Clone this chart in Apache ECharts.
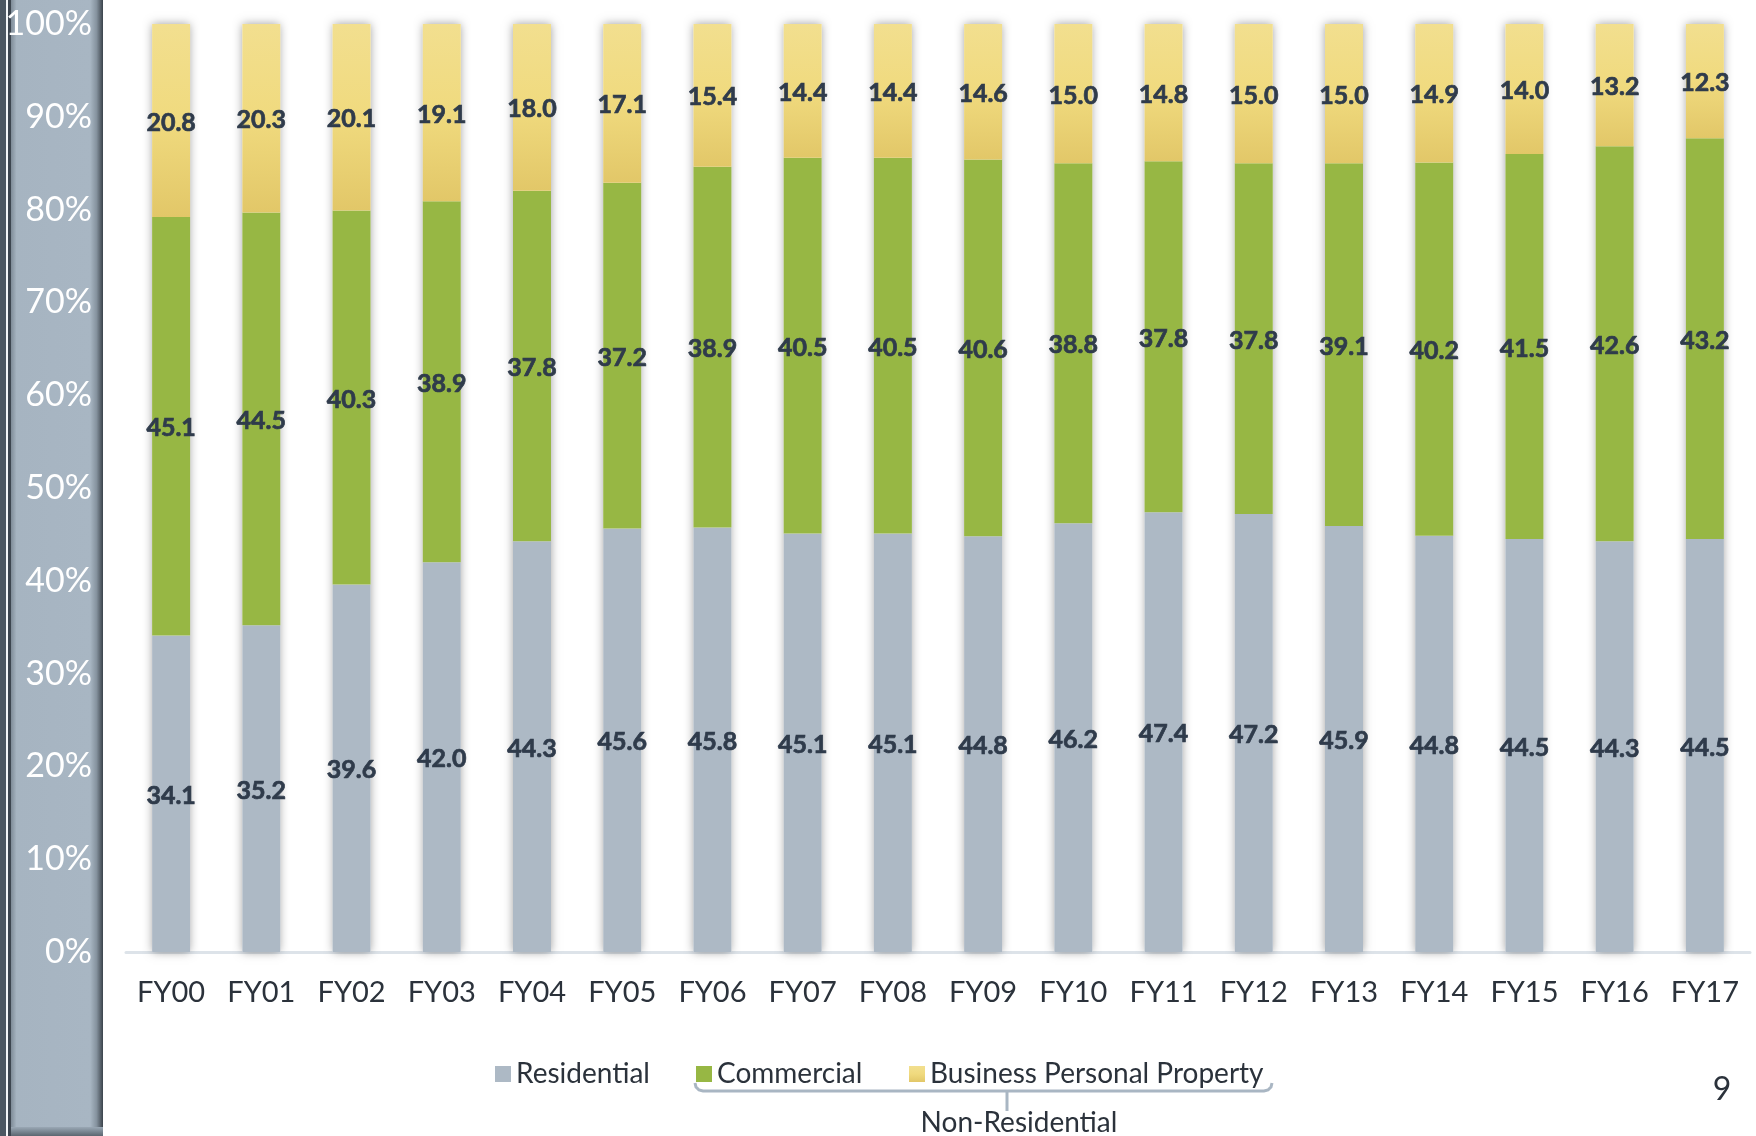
<!DOCTYPE html>
<html><head><meta charset="utf-8">
<script src="https://cdn.jsdelivr.net/npm/echarts@6/dist/echarts.min.js"></script>
<style>html,body{margin:0;padding:0;background:#fff}#c{width:1756px;height:1136px}</style>
</head><body><div id="c"></div>
<script>
const categories = ['FY00','FY01','FY02','FY03','FY04','FY05','FY06','FY07','FY08','FY09','FY10','FY11','FY12','FY13','FY14','FY15','FY16','FY17'];
const residential = [34.1,35.2,39.6,42.0,44.3,45.6,45.8,45.1,45.1,44.8,46.2,47.4,47.2,45.9,44.8,44.5,44.3,44.5];
const commercial  = [45.1,44.5,40.3,38.9,37.8,37.2,38.9,40.5,40.5,40.6,38.8,37.8,37.8,39.1,40.2,41.5,42.6,43.2];
const bpp         = [20.8,20.3,20.1,19.1,18.0,17.1,15.4,14.4,14.4,14.6,15.0,14.8,15.0,15.0,14.9,14.0,13.2,12.3];
const seriesNames = ['Residential','Commercial','Business Personal Property'];
const groupLabel = 'Non-Residential';
const pageNumber = '9';

const FONT = 'Lato, "Noto Sans", sans-serif';
const totals = categories.map((_, i) => residential[i] + commercial[i] + bpp[i]);
const pct = arr => arr.map((v, i) => v / totals[i] * 100);

const chart = echarts.init(document.getElementById('c'), null, {renderer: 'canvas'});
const labelCfg = raw => ({
  show: true, position: 'inside', color: '#2f3b4b', fontWeight: 'bold', fontSize: 25,
  textBorderColor: '#2f3b4b', textBorderWidth: 0.7, offset: [0, 2],
  fontFamily: FONT, formatter: p => raw[p.dataIndex].toFixed(1)
});
const legendCfg = (name, left) => ({
  data: [name], left: left, top: 1055, itemWidth: 16, itemHeight: 16,
  icon: 'rect', selectedMode: false,
  textStyle: {color: '#2b323b', fontSize: 28, fontFamily: FONT}
});

const option = {
  backgroundColor: '#ffffff',
  animation: false,
  grid: {left: 126, right: 6, top: 24, bottom: 184, containLabel: false},
  xAxis: {
    type: 'category', data: categories,
    axisLine: {show: true, lineStyle: {color: '#dde3e9', width: 3}},
    axisTick: {show: false},
    axisLabel: {color: '#2b323b', fontSize: 29, fontFamily: FONT, margin: 26}
  },
  yAxis: {
    type: 'value', min: 0, max: 100, interval: 10, z: 5,
    axisLine: {show: false}, axisTick: {show: false}, splitLine: {show: false},
    axisLabel: {color: '#ffffff', fontSize: 34, fontFamily: FONT, margin: 34, formatter: '{value}%'}
  },
  legend: [
    legendCfg(seriesNames[0], 490),
    legendCfg(seriesNames[1], 691),
    legendCfg(seriesNames[2], 904)
  ],
  series: [
    {
      name: 'shadow', type: 'bar', data: categories.map(() => 100), barWidth: 38, barGap: '-100%',
      silent: true, z: 1, legendHoverLink: false,
      itemStyle: {color: '#ffffff', shadowBlur: 9, shadowColor: 'rgba(0,0,0,0.38)'}
    },
    {
      name: seriesNames[0], type: 'bar', stack: 'a', data: pct(residential), barWidth: 38, z: 2,
      itemStyle: {color: '#adb9c5'}, label: labelCfg(residential)
    },
    {
      name: seriesNames[1], type: 'bar', stack: 'a', data: pct(commercial), barWidth: 38, z: 2,
      itemStyle: {color: '#97b744'}, label: labelCfg(commercial)
    },
    {
      name: seriesNames[2], type: 'bar', stack: 'a', data: pct(bpp), barWidth: 38, z: 2,
      itemStyle: {color: {type: 'linear', x: 0, y: 0, x2: 0, y2: 1, colorStops: [
        {offset: 0, color: '#f2df8f'}, {offset: 0.5, color: '#f0da7e'}, {offset: 1, color: '#e2c768'}
      ]}},
      label: labelCfg(bpp)
    }
  ],
  graphic: [
    {type: 'rect', z: 0, shape: {x: 0, y: 0, width: 6, height: 1136}, style: {fill: '#4c5762'}},
    {type: 'rect', z: 0, shape: {x: 6, y: 0, width: 2, height: 1136}, style: {fill: '#f4f6f8'}},
    {type: 'rect', z: 0, shape: {x: 8, y: 0, width: 3, height: 1136}, style: {fill: '#3d4650'}},
    {type: 'rect', z: 0, shape: {x: 11, y: 0, width: 92, height: 1136}, style: {
      fill: {type: 'linear', x: 0, y: 0, x2: 1, y2: 0, colorStops: [
        {offset: 0, color: '#7f8c98'}, {offset: 0.06, color: '#a6b4c1'}, {offset: 0.86, color: '#a8b6c3'},
        {offset: 0.93, color: '#85929e'}, {offset: 1, color: '#3b434b'}
      ]}}},
    {type: 'rect', z: 0, shape: {x: 11, y: 1127, width: 92, height: 9}, style: {
      fill: {type: 'linear', x: 0, y: 0, x2: 0, y2: 1, colorStops: [
        {offset: 0, color: '#9aa8b5'}, {offset: 1, color: '#5b6670'}
      ]}}},
    {type: 'polyline', z: 3, shape: {points: [[695,1083],[696,1087],[699,1090],[703,1091],[1264,1091],[1268,1090],[1271,1087],[1272,1083]]},
      style: {stroke: '#a9b6c3', lineWidth: 3, fill: null}},
    {type: 'line', z: 3, shape: {x1: 1007, y1: 1091, x2: 1007, y2: 1111}, style: {stroke: '#a9b6c3', lineWidth: 3}},
    {type: 'text', z: 3, x: 1019, y: 1123, style: {text: groupLabel, fill: '#2b323b', font: '28px ' + FONT, textAlign: 'center', textVerticalAlign: 'middle'}},
    {type: 'text', z: 3, x: 1722, y: 1090, style: {text: pageNumber, fill: '#2b323b', font: '32px ' + FONT, textAlign: 'center', textVerticalAlign: 'middle'}}
  ]
};
chart.setOption(option);
</script>
</body></html>
